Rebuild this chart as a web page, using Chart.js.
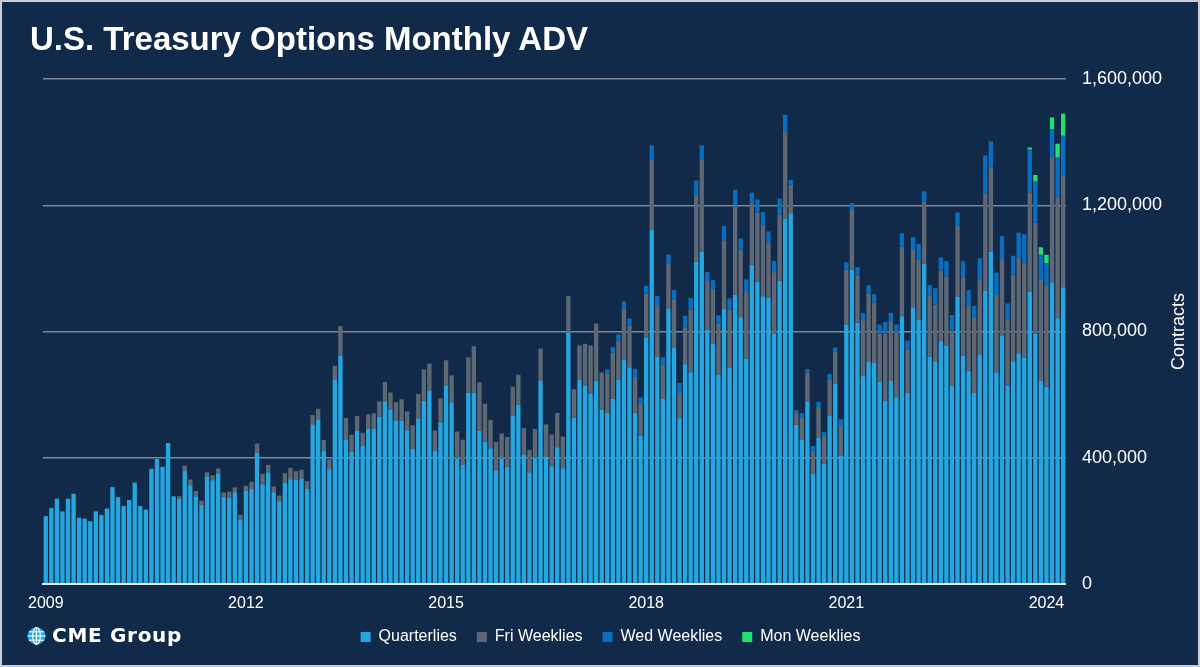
<!DOCTYPE html>
<html>
<head>
<meta charset="utf-8">
<title>U.S. Treasury Options Monthly ADV</title>
<script src="https://cdn.jsdelivr.net/npm/chart.js@4.4.1/dist/chart.umd.min.js"></script>
<style>
  html, body { margin: 0; padding: 0; background: #122a4a; }
  #wrap { position: relative; width: 1200px; height: 667px; overflow: hidden; background: #122a4a; }
  #chart { position: absolute; left: 0; top: 0; }
  #frame { position: absolute; left: 0; top: 0; width: 1200px; height: 667px; box-sizing: border-box;
           border: 2px solid #c9ced6; pointer-events: none; }
  #title { position: absolute; left: 30px; top: 20px; color: #fff; white-space: nowrap;
           font: bold 33px "Liberation Sans", Arial, sans-serif; }
  #logo { position: absolute; left: 27px; top: 623px; color: #fff; white-space: nowrap;
          font: bold 20px "DejaVu Sans", sans-serif; letter-spacing: 0.7px; }
  #logo svg { position: absolute; left: 0; top: 4px; }
  #logo span { position: absolute; left: 25px; top: 0; }
</style>
</head>
<body>
<div id="wrap">
  <canvas id="chart" width="1200" height="667"></canvas>
  <div id="title">U.S. Treasury Options Monthly ADV</div>
  <div id="logo">
    <svg width="19" height="18" viewBox="0 0 19 18">
      <ellipse cx="9.5" cy="9" rx="9" ry="8.5" fill="#29a7e0"/>
      <g stroke="#fff" stroke-width="1.1" fill="none">
        <ellipse cx="9.5" cy="9" rx="3.8" ry="8.5"/>
        <line x1="9.5" y1="0.5" x2="9.5" y2="17.5"/>
        <line x1="0.5" y1="9" x2="18.5" y2="9"/>
        <line x1="1.8" y1="4.8" x2="17.2" y2="4.8"/>
        <line x1="1.8" y1="13.2" x2="17.2" y2="13.2"/>
      </g>
    </svg>
    <span>CME Group</span>
  </div>
  <div id="frame"></div>
</div>
<script>
// monthly ADV in thousands of contracts, Jan 2009 .. Apr 2024
const startYear = 2009
const monthCount = 184

const quarterlies = [
  215, 241, 270, 230, 270, 286, 210, 207, 199, 230, 219, 239,
  307, 275, 247, 266, 321, 247, 236, 365, 396, 371, 447, 278,
  270, 358, 313, 278, 250, 341, 329, 350, 276, 273, 291, 203,
  296, 301, 415, 316, 354, 291, 262, 321, 332, 330, 334, 301,
  505, 522, 423, 364, 649, 723, 456, 418, 485, 437, 491, 493,
  531, 578, 553, 518, 518, 487, 428, 524, 580, 612, 422, 512,
  628, 575, 398, 377, 606, 606, 485, 451, 430, 358, 398, 371,
  533, 569, 410, 354, 399, 643, 402, 373, 433, 367, 797, 527,
  648, 628, 603, 644, 552, 542, 586, 648, 710, 687, 542, 469,
  780, 1123, 721, 586, 873, 749, 525, 696, 671, 1021, 1053, 806,
  763, 662, 871, 684, 916, 845, 714, 1011, 958, 912, 907, 792,
  961, 1157, 1175, 504, 459, 578, 350, 463, 381, 533, 634, 406,
  822, 996, 828, 659, 703, 700, 640, 580, 643, 592, 848, 606,
  876, 837, 1015, 721, 706, 770, 755, 628, 910, 723, 676, 605,
  727, 929, 1053, 671, 787, 628, 706, 730, 716, 926, 794, 644,
  625, 955, 842, 940
]

const friWeeklies = [
  0, 0, 0, 0, 0, 0, 0, 0, 0, 0, 0, 0,
  0, 0, 0, 0, 0, 0, 0, 0, 0, 0, 0, 0,
  8, 17, 18, 17, 14, 13, 15, 16, 14, 19, 15, 16,
  15, 23, 30, 33, 23, 18, 18, 30, 36, 27, 28, 25,
  30, 33, 33, 31, 42, 94, 70, 55, 47, 42, 46, 48,
  48, 62, 54, 58, 67, 60, 75, 78, 100, 86, 64, 76,
  81, 86, 85, 80, 112, 147, 154, 120, 90, 92, 79, 95,
  92, 94, 84, 71, 92, 103, 104, 101, 109, 100, 116, 90,
  108, 133, 153, 181, 118, 125, 147, 121, 160, 131, 115, 102,
  140, 223, 163, 110, 141, 152, 80, 118, 199, 211, 292, 154,
  172, 163, 218, 186, 284, 214, 211, 193, 218, 222, 176, 196,
  209, 277, 90, 40, 68, 92, 72, 98, 87, 115, 101, 98,
  174, 192, 149, 177, 217, 192, 154, 214, 187, 205, 221, 137,
  185, 190, 195, 191, 179, 223, 219, 175, 224, 247, 205, 240,
  236, 307, 269, 245, 243, 210, 274, 304, 300, 315, 351, 321,
  322, 398, 384, 354
]

const wedWeeklies = [
  0, 0, 0, 0, 0, 0, 0, 0, 0, 0, 0, 0,
  0, 0, 0, 0, 0, 0, 0, 0, 0, 0, 0, 0,
  0, 0, 0, 0, 0, 0, 0, 0, 0, 0, 0, 0,
  0, 0, 0, 0, 0, 0, 0, 0, 0, 0, 0, 0,
  0, 0, 0, 0, 0, 0, 0, 0, 0, 0, 0, 0,
  0, 0, 0, 0, 0, 0, 0, 0, 0, 0, 0, 0,
  0, 0, 0, 0, 0, 0, 0, 0, 0, 0, 0, 0,
  0, 0, 0, 0, 0, 0, 0, 0, 0, 0, 0, 0,
  0, 0, 0, 0, 0, 13, 18, 22, 25, 23, 25, 20,
  25, 44, 29, 22, 30, 30, 32, 36, 36, 46, 45, 29,
  28, 26, 45, 35, 49, 36, 40, 36, 42, 44, 34, 35,
  51, 53, 15, 7, 14, 11, 15, 16, 14, 17, 14, 18,
  23, 19, 27, 23, 26, 26, 28, 36, 29, 25, 42, 28,
  38, 50, 34, 35, 52, 42, 49, 49, 43, 53, 50, 36,
  69, 122, 80, 70, 72, 51, 60, 79, 92, 135, 130, 78,
  69, 88, 125, 126
]

const monWeeklies = [
  0, 0, 0, 0, 0, 0, 0, 0, 0, 0, 0, 0,
  0, 0, 0, 0, 0, 0, 0, 0, 0, 0, 0, 0,
  0, 0, 0, 0, 0, 0, 0, 0, 0, 0, 0, 0,
  0, 0, 0, 0, 0, 0, 0, 0, 0, 0, 0, 0,
  0, 0, 0, 0, 0, 0, 0, 0, 0, 0, 0, 0,
  0, 0, 0, 0, 0, 0, 0, 0, 0, 0, 0, 0,
  0, 0, 0, 0, 0, 0, 0, 0, 0, 0, 0, 0,
  0, 0, 0, 0, 0, 0, 0, 0, 0, 0, 0, 0,
  0, 0, 0, 0, 0, 0, 0, 0, 0, 0, 0, 0,
  0, 0, 0, 0, 0, 0, 0, 0, 0, 0, 0, 0,
  0, 0, 0, 0, 0, 0, 0, 0, 0, 0, 0, 0,
  0, 0, 0, 0, 0, 0, 0, 0, 0, 0, 0, 0,
  0, 0, 0, 0, 0, 0, 0, 0, 0, 0, 0, 0,
  0, 0, 0, 0, 0, 0, 0, 0, 0, 0, 0, 0,
  0, 0, 0, 0, 0, 0, 0, 0, 0, 7, 21, 24,
  27, 37, 44, 70
]

const yTicks = [0, 400, 800, 1200, 1600]

// month labels like 2009-01
const months = []
for (let i = 0; i < monthCount; i++) {
  const y = startYear + Math.floor(i / 12)
  const m = (i % 12) + 1
  months.push(y + '-' + (m < 10 ? '0' + m : m))
}

const font = '"Liberation Sans", Arial, sans-serif'

// rotated axis title, reads bottom to top
const axisTitle = {
  id: 'axisTitle',
  afterDraw(chart) {
    const ctx = chart.ctx
    const area = chart.chartArea
    ctx.save()
    ctx.translate(1179, (area.top + area.bottom) / 2)
    ctx.rotate(-Math.PI / 2)
    ctx.fillStyle = '#ffffff'
    ctx.font = '18px ' + font
    ctx.textAlign = 'center'
    ctx.textBaseline = 'middle'
    ctx.fillText('Contracts', 0, 0)
    ctx.restore()
  }
}

function bars(label, data, color) {
  return {
    label: label,
    data: data,
    backgroundColor: color,
    borderWidth: 0,
    barPercentage: 1,
    categoryPercentage: 0.78
  }
}

new Chart(document.getElementById('chart'), {
  type: 'bar',
  data: {
    labels: months,
    datasets: [
      bars('Quarterlies', quarterlies, '#26a6de'),
      bars('Fri Weeklies', friWeeklies, '#5e6874'),
      bars('Wed Weeklies', wedWeeklies, '#0a6ebe'),
      bars('Mon Weeklies', monWeeklies, '#1ee16e')
    ]
  },
  options: {
    responsive: false,
    animation: false,
    layout: { padding: { left: 43, right: 22, top: 79, bottom: 12 } },
    plugins: {
      title: { display: false },
      tooltip: { enabled: false },
      legend: {
        position: 'bottom',
        labels: {
          color: '#ffffff',
          font: { family: font, size: 16 },
          boxWidth: 10,
          boxHeight: 10,
          padding: 20
        }
      }
    },
    scales: {
      x: {
        stacked: true,
        grid: { display: false },
        border: { display: true, color: '#e8e8ee', width: 2 },
        afterFit: (scale) => { scale.height = 25 },
        ticks: {
          color: '#ffffff',
          font: { family: font, size: 16 },
          autoSkip: false,
          maxRotation: 0,
          padding: 2,
          callback: (v, i) => i % 36 === 0 ? months[i].slice(0, 4) : ''
        }
      },
      y: {
        stacked: true,
        position: 'right',
        min: 0,
        max: 1600,
        afterBuildTicks: (scale) => { scale.ticks = yTicks.map(v => ({ value: v })) },
        grid: {
          drawTicks: false,
          color: (c) => c.tick && c.tick.value === 0 ? '#e8e8ee' : '#7c889a',
          lineWidth: (c) => c.tick && c.tick.value === 0 ? 2 : 1.5
        },
        border: { display: false },
        ticks: {
          color: '#ffffff',
          font: { family: font, size: 18 },
          padding: 16,
          callback: (v) => (v * 1000).toLocaleString('en-US')
        }
      }
    }
  },
  plugins: [axisTitle]
})
</script>
</body>
</html>
